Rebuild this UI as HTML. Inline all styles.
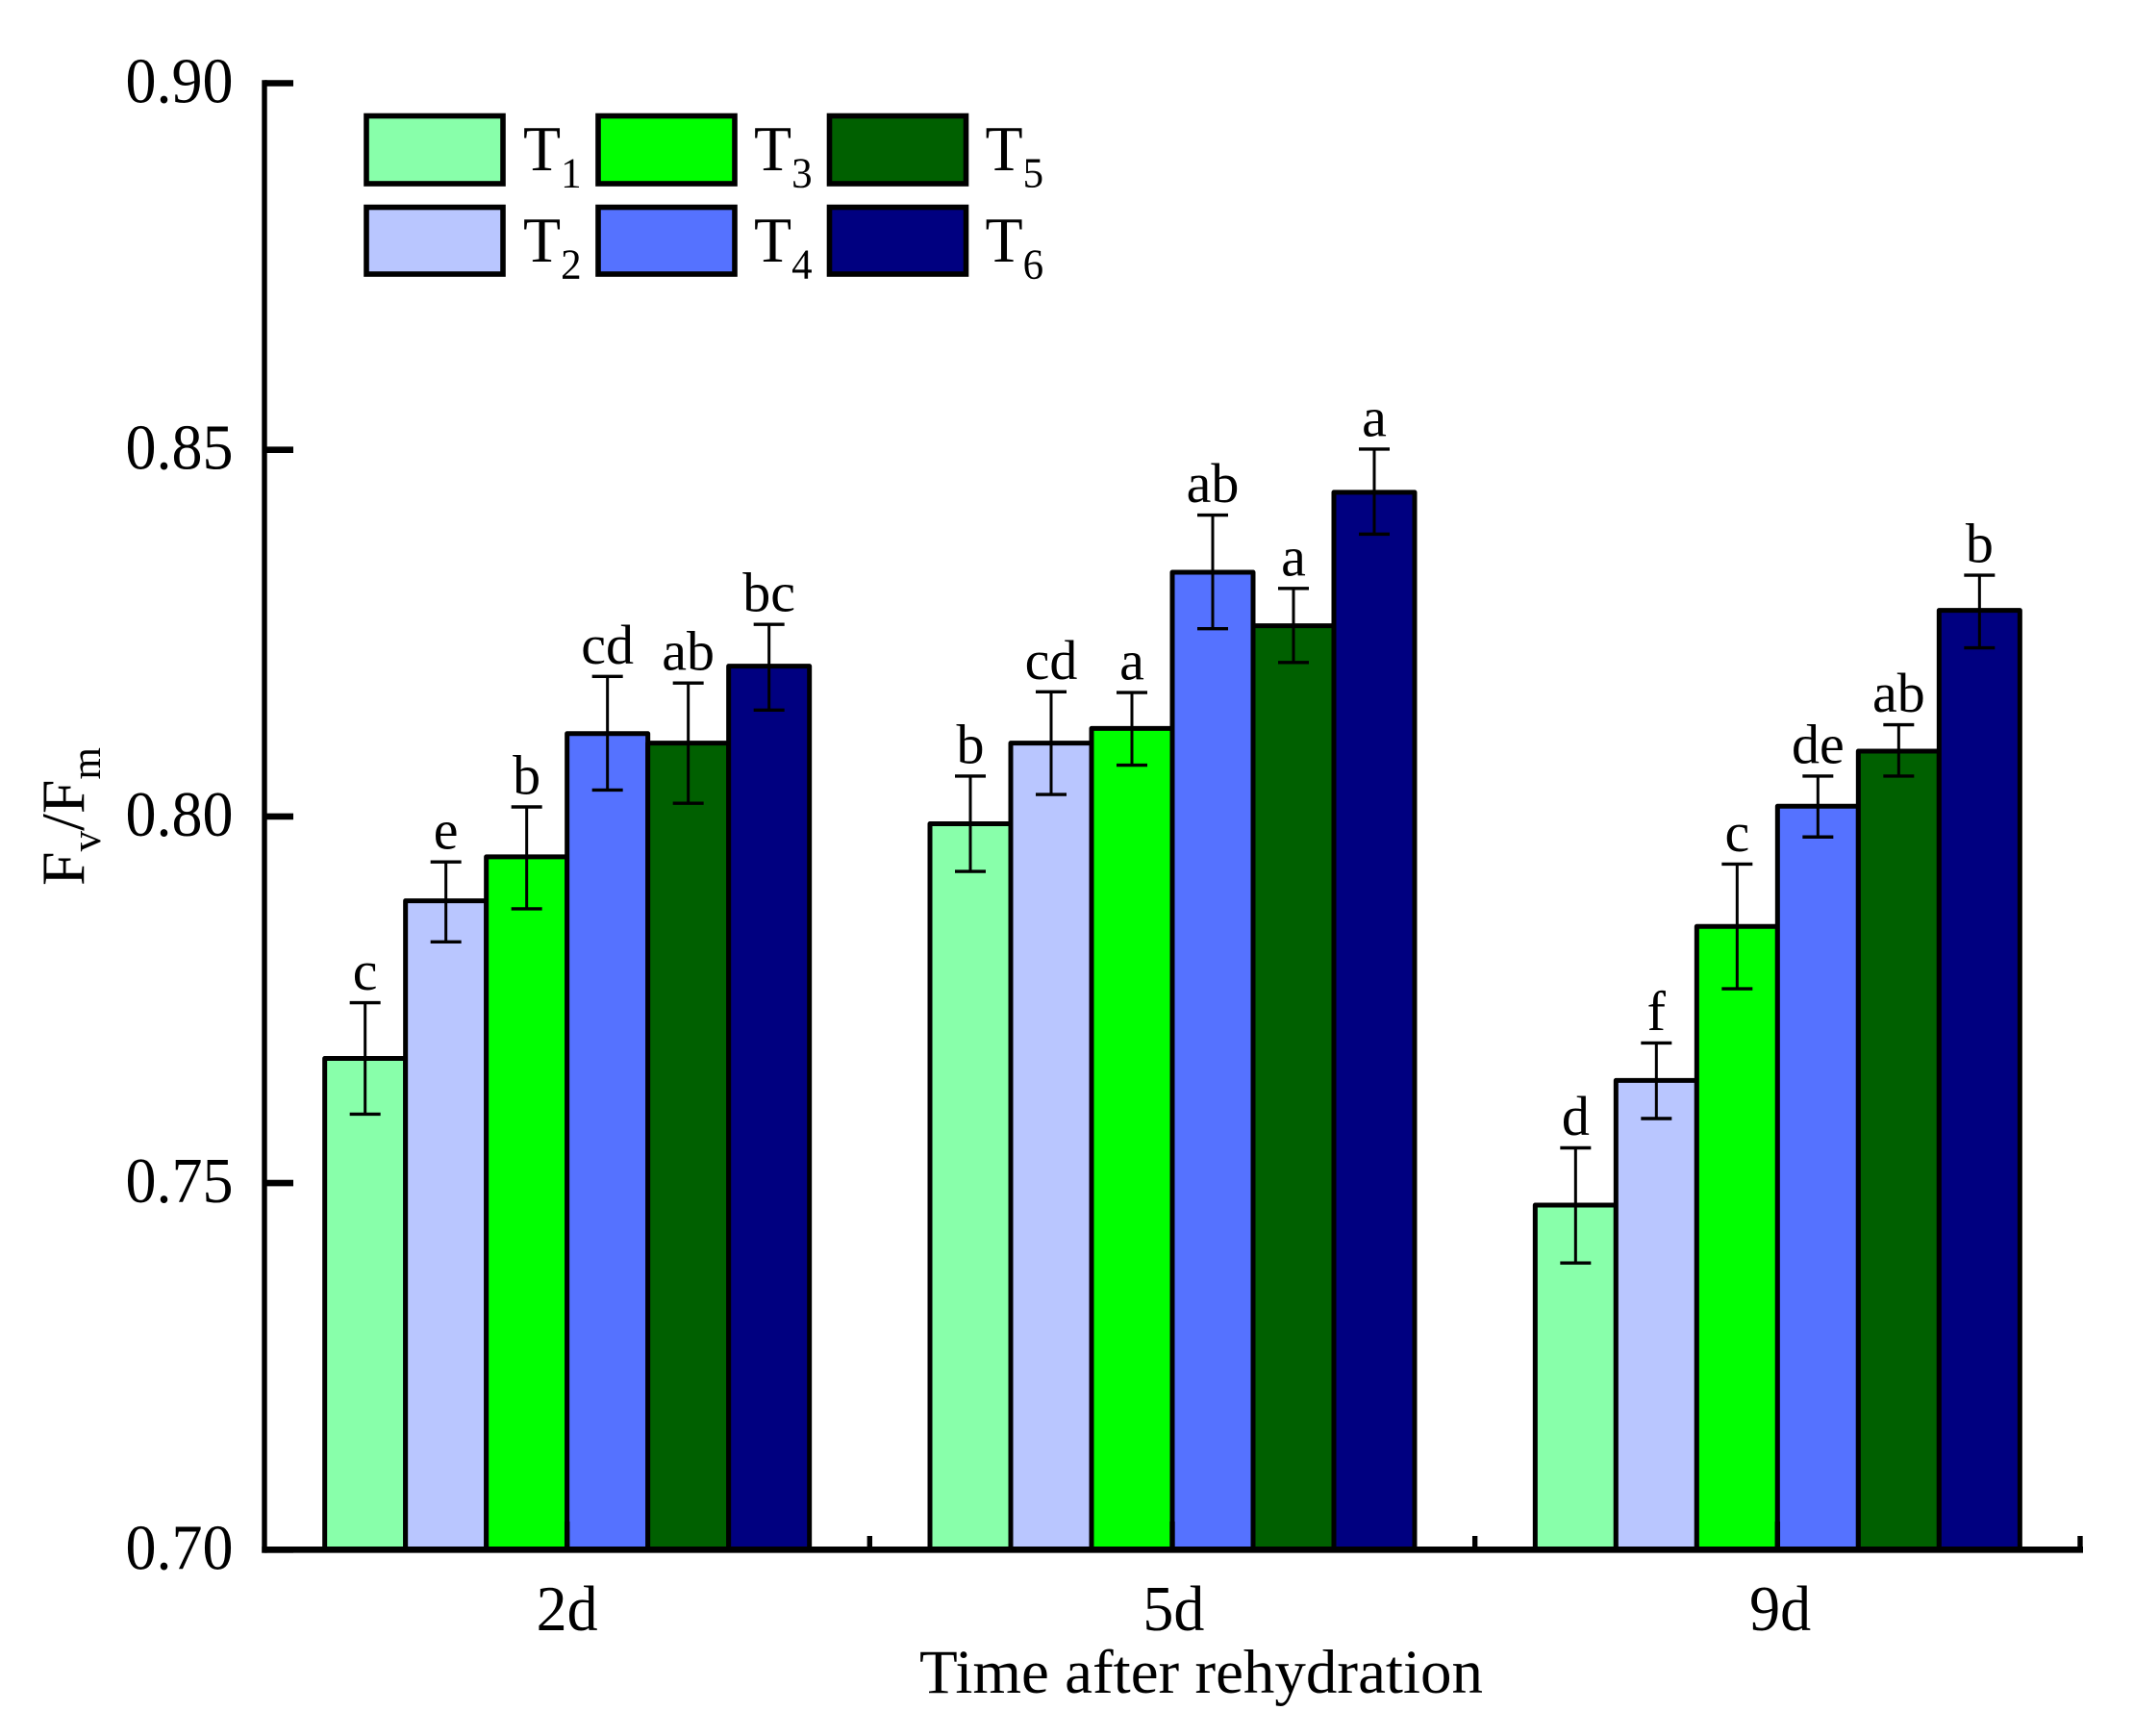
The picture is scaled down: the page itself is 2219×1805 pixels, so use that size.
<!DOCTYPE html>
<html lang="en">
<head>
<meta charset="utf-8">
<title>Fv/Fm after rehydration</title>
<style>
  html, body { margin: 0; padding: 0; background: #fff; }
  svg { display: block; }
  text { font-family: "Liberation Serif", serif; fill: #000; }
</style>
</head>
<body>
<svg id="chart" xmlns="http://www.w3.org/2000/svg" width="2219" height="1805" viewBox="0 0 2219 1805">
  <rect x="0" y="0" width="2219" height="1805" fill="#ffffff"/>
  <g id="marks"></g>
  <g id="axes"></g>
  <g>
    <g>
      <rect x="381" y="120.5" width="142" height="70.5" fill="#88FFAA" stroke="#000" stroke-width="5.6"/>
      <text transform="translate(544,177) scale(1,1.04)" font-size="64">T<tspan font-size="43" dy="17">1</tspan></text>
    </g>
    <g>
      <rect x="622" y="120.5" width="142" height="70.5" fill="#00FF00" stroke="#000" stroke-width="5.6"/>
      <text transform="translate(784,177) scale(1,1.04)" font-size="64">T<tspan font-size="43" dy="17">3</tspan></text>
    </g>
    <g>
      <rect x="862.5" y="120.5" width="142" height="70.5" fill="#006000" stroke="#000" stroke-width="5.6"/>
      <text transform="translate(1024.5,177) scale(1,1.04)" font-size="64">T<tspan font-size="43" dy="17">5</tspan></text>
    </g>
    <g>
      <rect x="381" y="215.5" width="142" height="69.5" fill="#B9C6FF" stroke="#000" stroke-width="5.6"/>
      <text transform="translate(544,272) scale(1,1.04)" font-size="64">T<tspan font-size="43" dy="17">2</tspan></text>
    </g>
    <g>
      <rect x="622" y="215.5" width="142" height="69.5" fill="#5572FF" stroke="#000" stroke-width="5.6"/>
      <text transform="translate(784,272) scale(1,1.04)" font-size="64">T<tspan font-size="43" dy="17">4</tspan></text>
    </g>
    <g>
      <rect x="862.5" y="215.5" width="142" height="69.5" fill="#000080" stroke="#000" stroke-width="5.6"/>
      <text transform="translate(1024.5,272) scale(1,1.04)" font-size="64">T<tspan font-size="43" dy="17">6</tspan></text>
    </g>
  </g>
  <text transform="translate(87,921) rotate(-90)" font-size="64">F<tspan font-size="43" dy="17">v</tspan><tspan dy="-17">/F</tspan><tspan font-size="43" dy="17">m</tspan></text>
  <text x="956" y="1760" font-size="65">Time after rehydration</text>
</svg>
<script>
// Chart data
const categories = ['2d', '5d', '9d'];
const seriesNames = ['T1', 'T2', 'T3', 'T4', 'T5', 'T6'];
const t1Values = [0.767, 0.799, 0.747];
const t2Values = [0.7885, 0.810, 0.764];
const t3Values = [0.7945, 0.812, 0.785];
const t4Values = [0.8113, 0.8333, 0.8014];
const t5Values = [0.810, 0.826, 0.8089];
const t6Values = [0.8205, 0.8442, 0.8281];
const t1Upper = [0.7746, 0.8055, 0.7548];
const t2Upper = [0.7938, 0.8170, 0.7691];
const t3Upper = [0.8013, 0.8169, 0.7935];
const t4Upper = [0.8191, 0.8411, 0.8055];
const t5Upper = [0.8182, 0.8311, 0.8125];
const t6Upper = [0.8262, 0.8501, 0.8329];
const t1Lower = [0.7594, 0.7925, 0.7391];
const t2Lower = [0.7829, 0.8030, 0.7588];
const t3Lower = [0.7874, 0.8070, 0.7765];
const t4Lower = [0.8036, 0.8256, 0.7972];
const t5Lower = [0.8018, 0.8210, 0.8055];
const t6Lower = [0.8145, 0.8385, 0.8230];
const t1Letters = ['c', 'b', 'd'];
const t2Letters = ['e', 'cd', 'f'];
const t3Letters = ['b', 'a', 'c'];
const t4Letters = ['cd', 'ab', 'de'];
const t5Letters = ['ab', 'a', 'ab'];
const t6Letters = ['bc', 'a', 'b'];
const yTickValues = [0.70, 0.75, 0.80, 0.85, 0.90];
const yTickLabels = ['0.70', '0.75', '0.80', '0.85', '0.90'];

const seriesValues = [t1Values, t2Values, t3Values, t4Values, t5Values, t6Values];
const seriesUpper = [t1Upper, t2Upper, t3Upper, t4Upper, t5Upper, t6Upper];
const seriesLower = [t1Lower, t2Lower, t3Lower, t4Lower, t5Lower, t6Lower];
const seriesLetters = [t1Letters, t2Letters, t3Letters, t4Letters, t5Letters, t6Letters];
const seriesFills = ['#88FFAA', '#B9C6FF', '#00FF00', '#5572FF', '#006000', '#000080'];

// Axis functions
const NS = 'http://www.w3.org/2000/svg';
const plotLeft = 275, plotRight = 2163, yBase = 1611.3, yTop = 86.5;
const yMin = 0.70, yMax = 0.90;
const barW = 84;
function yScale(v) { return yBase - (v - yMin) / (yMax - yMin) * (yBase - yTop); }
function catWidth() { return (plotRight - plotLeft) / categories.length; }
function catCenter(i) { return plotLeft + catWidth() * (i + 0.5); }
function barLeft(c, s) { return catCenter(c) + (s - seriesNames.length / 2) * barW; }

function make(tag, attrs, parent) {
  const el = document.createElementNS(NS, tag);
  for (const k in attrs) el.setAttribute(k, attrs[k]);
  parent.appendChild(el);
  return el;
}
function stroke(x1, y1, x2, y2, w, parent) {
  return make('line', { x1: x1, y1: y1, x2: x2, y2: y2, stroke: '#000', 'stroke-width': w }, parent);
}

const marks = document.getElementById('marks');
const axes = document.getElementById('axes');

// Bars
seriesNames.forEach(function (name, s) {
  categories.forEach(function (cat, c) {
    const x = barLeft(c, s);
    const y = yScale(seriesValues[s][c]);
    const bar = make('rect', { x: x, y: y, width: barW, height: yBase - y, fill: seriesFills[s], stroke: '#000', 'stroke-width': 5, 'stroke-linejoin': 'round' }, marks);
    
    
  });
});

// Error bars and significance letters
seriesNames.forEach(function (name, s) {
  categories.forEach(function (cat, c) {
    const cx = barLeft(c, s) + barW / 2;
    const yu = yScale(seriesUpper[s][c]);
    const yl = yScale(seriesLower[s][c]);
    const g = make('g', {}, marks);
    
    
    stroke(cx, yu, cx, yl, 3, g);
    stroke(cx - 16, yu, cx + 16, yu, 3.4, g);
    stroke(cx - 16, yl, cx + 16, yl, 3.4, g);
    const t = make('text', { x: cx, y: yu - 13.5, 'font-size': 58, 'text-anchor': 'middle' }, marks);
    
    
    t.textContent = seriesLetters[s][c];
  });
});

// Y axis
const yAxisLine = stroke(plotLeft, yTop - 3.3, plotLeft, yBase + 3.3, 5.4, axes);


yTickValues.forEach(function (v, i) {
  const y = yScale(v);
  const tick = stroke(plotLeft, y, 305, y, 6.6, axes);
  
  
  const t = make('text', { 'font-size': 64, 'text-anchor': 'end', transform: 'translate(242.5,' + (y + 20) + ') scale(1,1.05)' }, axes);
  
  
  t.textContent = yTickLabels[i];
});

// X axis
const xAxisLine = stroke(plotLeft - 2.7, yBase, plotRight + 3, yBase, 6.6, axes);


categories.forEach(function (cat, c) {
  const cx = catCenter(c);
  const tick = stroke(cx, yBase, cx, 1582, 5.4, axes);
  
  
  const t = make('text', { 'font-size': 64, 'text-anchor': 'middle', transform: 'translate(' + (cx + c * 1.4) + ',1695) scale(1,1.05)' }, axes);
  
  
  t.textContent = cat;
  const edge = plotLeft + catWidth() * (c + 1);
  const minor = stroke(edge, yBase, edge, 1597, 5.4, axes);
  
  
});
</script>
</body>
</html>
